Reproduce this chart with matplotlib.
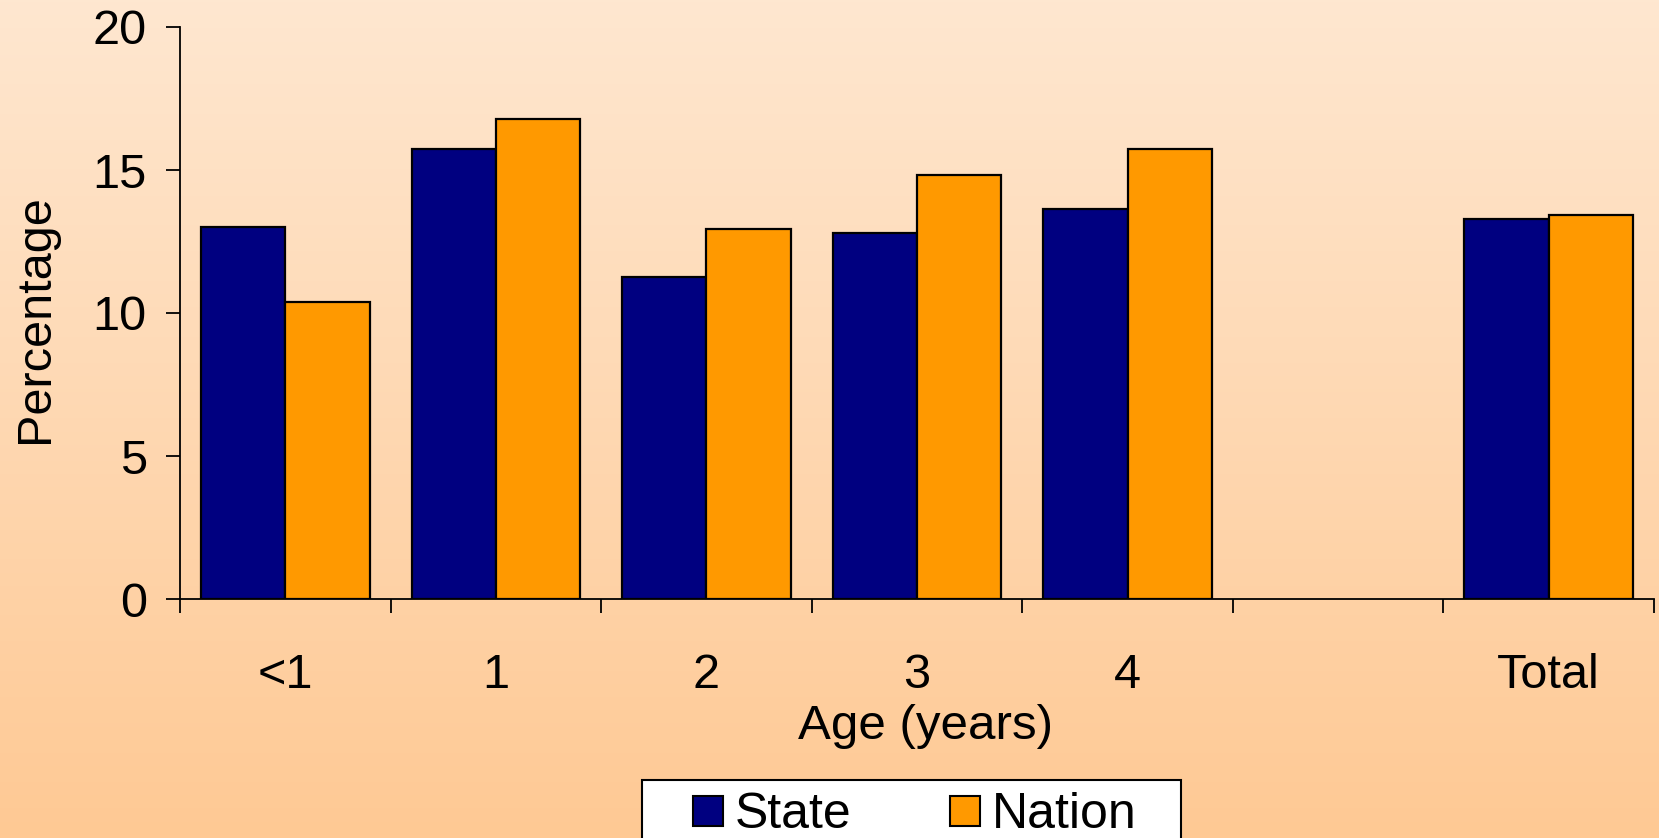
import numpy as np
import matplotlib
matplotlib.use("Agg")
import matplotlib.pyplot as plt
from matplotlib.lines import Line2D
from matplotlib.patches import Rectangle

categories = ["<1", "1", "2", "3", "4", "", "Total"]
state = [13.02, 15.75, 11.27, 12.81, 13.65, np.nan, 13.30]
nation = [10.37, 16.79, 12.95, 14.84, 15.73, np.nan, 13.44]
series_names = ["State", "Nation"]
yticks = [0, 5, 10, 15, 20]

plt.rcParams['font.family'] = ['Liberation Sans', 'DejaVu Sans']

W, H = 1659, 838
fig = plt.figure(figsize=(W / 100, H / 100), dpi=100)

# gradient background
bg = fig.add_axes([0, 0, 1, 1], zorder=-10)
top = np.array([254, 231, 208]) / 255.0
bot = np.array([255, 201, 148]) / 255.0
t = np.linspace(0, 1, 256)[:, None]
grad = (top[None, :] * (1 - t) + bot[None, :] * t)[:, None, :]
bg.imshow(grad, aspect='auto', extent=[0, 1, 0, 1], origin='upper')
bg.set_axis_off()

left, right = 180 / W, 1654 / W
bottom, topy = 1 - 599 / H, 1 - 27 / H
ax = fig.add_axes([left, bottom, right - left, topy - bottom])
ax.patch.set_alpha(0)

x = np.arange(len(categories))
bw = 0.4
ax.bar(x - bw / 2, state, width=bw, color='#000080', edgecolor='black', linewidth=1.6, label=series_names[0], zorder=3)
ax.bar(x + bw / 2, nation, width=bw, color='#FF9900', edgecolor='black', linewidth=1.6, label=series_names[1], zorder=3)

ax.set_xlim(-0.5, len(categories) - 0.5)
ax.set_ylim(0, 20)
ax.set_yticks(yticks)
ax.tick_params(axis='y', labelsize=35, length=10, width=1.3, pad=14, direction='out')

ax.set_xticks(x)
ax.set_xticklabels(categories)
ax.set_xticks(np.arange(len(categories) + 1) - 0.5, minor=True)
ax.tick_params(axis='x', which='major', length=0, labelsize=35, pad=39)
ax.tick_params(axis='x', which='minor', length=10, width=1.3, direction='out')

for s in ['top', 'right']:
    ax.spines[s].set_visible(False)
for s in ['left', 'bottom']:
    ax.spines[s].set_linewidth(1.3)

ax.set_ylabel("Percentage", fontsize=35)
ax.yaxis.set_label_coords(-0.083, 0.49)
ax.set_xlabel("Age (years)", fontsize=35.5)
ax.xaxis.set_label_coords(0.506, -0.184)

# legend frame
fig.patches.append(Rectangle((642 / W, -0.05), (1181 - 642) / W, 0.05 + 1 - 780 / H,
                             transform=fig.transFigure, facecolor='white', edgecolor='black',
                             linewidth=1.5, zorder=1))
handles = [Line2D([], [], marker='s', linestyle='none', markersize=21, markerfacecolor='#000080', markeredgecolor='black', markeredgewidth=1.5),
           Line2D([], [], marker='s', linestyle='none', markersize=21, markerfacecolor='#FF9900', markeredgecolor='black', markeredgewidth=1.5)]
leg = fig.legend(handles, series_names, loc='center left', bbox_to_anchor=(693 / W, 1 - 815 / H),
                 ncol=2, fontsize=36, frameon=False, handlelength=0.6, handletextpad=0.24,
                 columnspacing=1.96, borderpad=0, borderaxespad=0)
leg.set_zorder(5)

fig.savefig("out.png", dpi=100)
